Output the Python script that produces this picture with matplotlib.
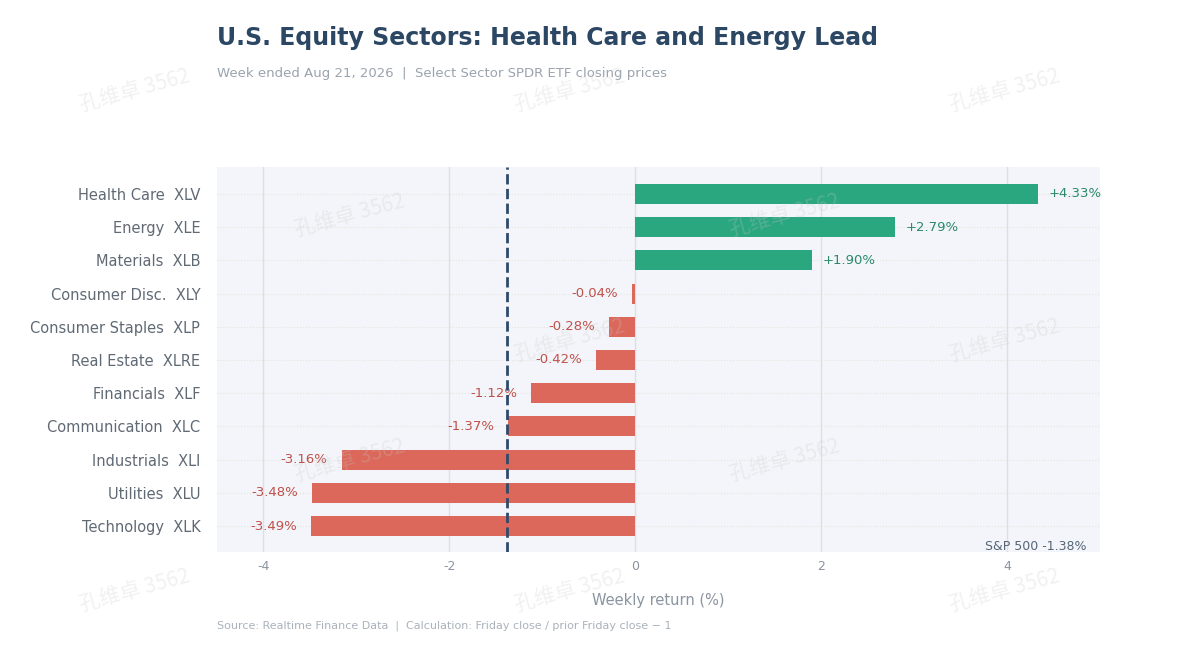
import matplotlib.pyplot as plt
import numpy as np

plt.rcParams['axes.unicode_minus'] = False

sectors = ['Health Care  XLV', 'Energy  XLE', 'Materials  XLB', 'Consumer Disc.  XLY',
           'Consumer Staples  XLP', 'Real Estate  XLRE', 'Financials  XLF',
           'Communication  XLC', 'Industrials  XLI', 'Utilities  XLU', 'Technology  XLK']
returns = [4.33, 2.79, 1.90, -0.04, -0.28, -0.42, -1.12, -1.37, -3.16, -3.48, -3.49]
sp500 = -1.38

green = '#2ba77f'
red = '#dc685b'

fig = plt.figure(figsize=(11.89, 6.72), dpi=100)
ax = fig.add_axes([217 / 1189, 1 - 552 / 672, 883 / 1189, 385 / 672])
ax.set_facecolor('#f3f5fa')

y = np.arange(len(sectors))
colors = [green if r >= 0 else red for r in returns]
ax.barh(y, returns, height=0.6, color=colors, zorder=3)
for yi, r in zip(y, returns):
    if r >= 0:
        ax.text(r + 0.12, yi, f'+{r:.2f}%', va='center', ha='left', color='#2a8a6a', fontsize=9.5)
    else:
        ax.text(r - 0.15, yi, f'{r:.2f}%', va='center', ha='right', color='#c0504a', fontsize=9.5)

ax.axvline(sp500, color='#2d4a6b', ls='--', lw=2, zorder=4)
ax.text(4.85, 10.62, f'S&P 500 {sp500:.2f}%', ha='right', va='center', color='#556575', fontsize=9)

ax.set_xlim(-4.5, 5.0)
ax.set_ylim(10.78, -0.81)
ax.set_yticks(y)
ax.set_yticklabels(sectors, fontsize=10.5, color='#606a75')
ax.set_xticks([-4, -2, 0, 2, 4])
ax.tick_params(axis='x', colors='#8a94a0', labelsize=9, length=0, pad=6)
ax.tick_params(axis='y', length=0, pad=12)
ax.grid(axis='x', color='#dcdfe5', lw=1, zorder=0)
for yi in y:
    ax.axhline(yi, color='#e2e4dc', lw=0.8, ls=':', zorder=1)
for s in ax.spines.values():
    s.set_visible(False)
ax.set_xlabel('Weekly return (%)', color='#8a94a0', fontsize=10.5, labelpad=14)

fig.text(217 / 1189, 1 - 38 / 672, 'U.S. Equity Sectors: Health Care and Energy Lead',
         fontsize=17, fontweight='bold', color='#2c4763', va='center')
fig.text(217 / 1189, 1 - 73 / 672, 'Week ended Aug 21, 2026  |  Select Sector SPDR ETF closing prices',
         fontsize=9.5, color='#9aa3ae', va='center')
fig.text(217 / 1189, 1 - 626 / 672,
         'Source: Realtime Finance Data  |  Calculation: Friday close / prior Friday close \u2212 1',
         fontsize=8, color='#aab2bb', va='center')

wm = [(135, 90), (570, 90), (1005, 90), (350, 215), (785, 215),
      (570, 340), (1005, 340), (350, 460), (785, 460), (135, 590), (570, 590), (1005, 590)]
for px, py in wm:
    fig.text(px / 1189, 1 - py / 672, '孔维卓 3562', family=['Noto Sans CJK SC', 'DejaVu Sans'],
             fontsize=15, color='#c8c8c8', alpha=0.25, rotation=15, ha='center', va='center')

fig.savefig('out.png', dpi=100)
